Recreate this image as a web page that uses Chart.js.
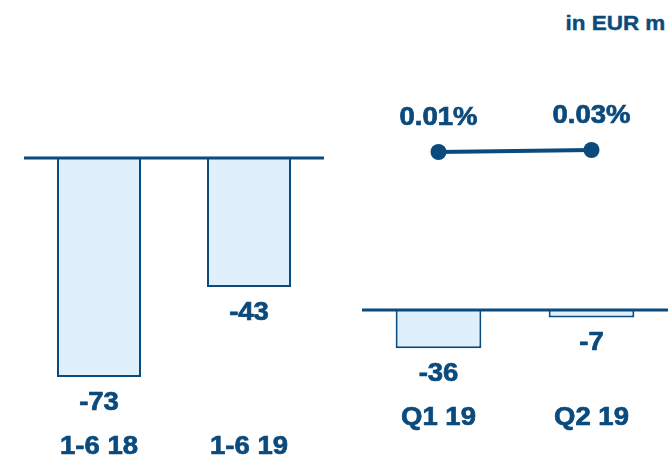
<!DOCTYPE html>
<html>
<head>
<meta charset="utf-8">
<script src="https://cdn.jsdelivr.net/npm/chart.js@4.4.1/dist/chart.umd.min.js"></script>
<style>
  body { margin: 0; background: #fff; }
  #wrap { position: relative; width: 668px; height: 455px; overflow: hidden; font-family: "Liberation Sans", Arial, sans-serif; }
  .box { position: absolute; top: 0; height: 455px; }
  #unit { position: absolute; right: 3px; top: 11px; font-weight: bold; font-size: 21px; color: #0b4a7c;
          transform: scaleX(1.07); transform-origin: right center; -webkit-text-stroke: 0.4px #0b4a7c; }
</style>
</head>
<body>
<div id="wrap">
  <div id="unit">in EUR m</div>
  <div class="box" style="left:24px;width:300px"><canvas id="halfYear"></canvas></div>
  <div class="box" style="left:362px;width:306px"><canvas id="quarters"></canvas></div>
</div>
<script>
// half-year figures
var halfLabels = ['1-6 18', '1-6 19'];
var halfValues = [-73, -43];

// quarterly figures
var quarterLabels = ['Q1 19', 'Q2 19'];
var quarterValues = [-36, -7];
var ratioValues = [0.01, 0.03];

var navy = '#0b4a7c';
var paleBlue = '#dff0fc';
var labelFont = 'bold 25px "Liberation Sans", Arial, sans-serif';

// slightly wide, heavy text
function drawText(ctx, text, x, y) {
  ctx.save();
  ctx.translate(x, y);
  ctx.scale(1.1, 1);
  ctx.fillText(text, 0, 0);
  ctx.strokeText(text, 0, 0);
  ctx.restore();
}

// zero line, value labels under the bars, category names, % labels over the points
var labelsPlugin = {
  id: 'labels',
  afterDatasetsDraw: function(chart, args, opts) {
    var ctx = chart.ctx;
    var area = chart.chartArea;
    var y0 = chart.scales.y.getPixelForValue(0);
    ctx.save();
    ctx.strokeStyle = navy;
    ctx.lineWidth = 3;
    ctx.beginPath();
    ctx.moveTo(area.left, y0);
    ctx.lineTo(area.right, y0);
    ctx.stroke();

    ctx.fillStyle = navy;
    ctx.lineWidth = 0.7;
    ctx.font = labelFont;
    ctx.textAlign = 'center';
    ctx.textBaseline = 'middle';
    chart.data.datasets.forEach(function(ds, i) {
      var meta = chart.getDatasetMeta(i);
      meta.data.forEach(function(el, j) {
        var v = ds.data[j];
        if (ds.type === 'line') {
          drawText(ctx, v.toFixed(2) + '%', el.x, el.y - 34);
        } else {
          drawText(ctx, String(v), el.x, el.y + 26);
          drawText(ctx, chart.data.labels[j], el.x, y0 + opts.catOffset);
        }
      });
    });
    ctx.restore();
  }
};

function hiddenScales(extra) {
  var s = {
    x: { display: false, offset: true },
    y: { display: false, min: extra.min, max: extra.max }
  };
  if (extra.y2) s.y2 = { display: false, min: extra.y2[0], max: extra.y2[1] };
  return s;
}

function barSet(values) {
  return {
    type: 'bar',
    data: values,
    yAxisID: 'y',
    backgroundColor: paleBlue,
    borderColor: navy,
    borderWidth: 2,
    categoryPercentage: 1,
    barPercentage: 0.56,
    order: 2
  };
}

var baseOptions = function(scales, catOffset) {
  return {
    responsive: true,
    maintainAspectRatio: false,
    animation: false,
    layout: { padding: 0, autoPadding: false },
    plugins: { legend: { display: false }, tooltip: { enabled: false }, labels: { catOffset: catOffset } },
    scales: scales
  };
};

new Chart(document.getElementById('halfYear'), {
  type: 'bar',
  data: { labels: halfLabels, datasets: [barSet(halfValues)] },
  options: baseOptions(hiddenScales({ min: -99, max: 52.67 }), 289),
  plugins: [labelsPlugin]
});

new Chart(document.getElementById('quarters'), {
  type: 'bar',
  data: {
    labels: quarterLabels,
    datasets: [
      {
        type: 'line',
        data: ratioValues,
        yAxisID: 'y2',
        borderColor: navy,
        borderWidth: 4,
        pointRadius: 8,
        pointBackgroundColor: navy,
        pointBorderWidth: 0,
        clip: false,
        order: 1
      },
      barSet(quarterValues)
    ]
  },
  options: baseOptions(hiddenScales({ min: -136.8, max: 292.5, y2: [-3.02, 1.53] }), 108),
  plugins: [labelsPlugin]
});
</script>
</body>
</html>
